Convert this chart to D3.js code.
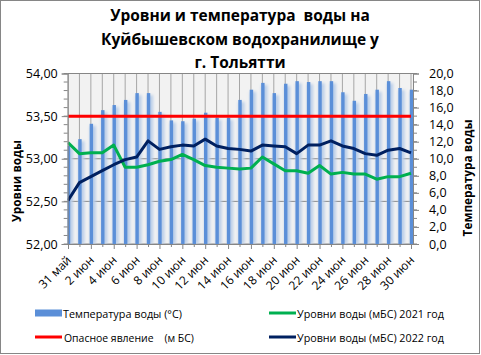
<!DOCTYPE html>
<html><head><meta charset="utf-8">
<script src="https://cdn.jsdelivr.net/npm/d3@7"></script>
<style>
html,body{margin:0;padding:0;background:#fff;}
svg{display:block;}
text{font-family:"Open Sans","Noto Sans",sans-serif;}
</style></head>
<body>
<script>
const days = ["31 май","1 июн","2 июн","3 июн","4 июн","5 июн","6 июн","7 июн","8 июн","9 июн","10 июн","11 июн","12 июн","13 июн","14 июн","15 июн","16 июн","17 июн","18 июн","19 июн","20 июн","21 июн","22 июн","23 июн","24 июн","25 июн","26 июн","27 июн","28 июн","29 июн","30 июн"];
const temperature = [11.5,12.3,14.1,15.7,16.3,16.9,17.7,17.7,15.5,14.5,14.4,14.7,15.4,14.8,14.8,16.9,18.1,18.9,17.7,18.8,19.1,19.0,19.1,19.1,17.8,16.8,17.6,18.1,19.1,18.3,18.1];
const level2021 = [53.19,53.06,53.07,53.07,53.16,52.90,52.90,52.93,52.97,52.99,53.05,52.99,52.92,52.90,52.89,52.88,52.89,53.02,52.94,52.86,52.86,52.83,52.92,52.82,52.84,52.82,52.82,52.76,52.79,52.79,52.83];
const level2022 = [52.51,52.72,52.79,52.86,52.93,52.99,53.02,53.21,53.11,53.14,53.16,53.15,53.23,53.15,53.12,53.11,53.09,53.16,53.15,53.14,53.06,53.16,53.16,53.21,53.15,53.12,53.06,53.04,53.10,53.12,53.07];
const danger = days.map(() => 53.5);
const leftTicks = [52.0,52.5,53.0,53.5,54.0];
const rightTicks = [0,2,4,6,8,10,12,14,16,18,20];
const titleLines = ["Уровни и температура  воды на","Куйбышевском водохранилище у","г. Тольятти"];
const legendLabels = ["Температура воды (°C)","Опасное явление    (м БС)","Уровни воды (мБС) 2021 год","Уровни воды (мБС) 2022 год"];

const W = 481, H = 355;
const L = 67.7, R = 413, T = 73.5, B = 244;
const svg = d3.select("body").append("svg").attr("width", W).attr("height", H);

function fit(sel, w) {
  const fs = parseFloat(sel.style("font-size"));
  const cur = sel.node().getComputedTextLength();
  sel.style("font-size", (fs * w / cur).toFixed(2) + "px");
}

svg.append("rect").attr("x",0.5).attr("y",0.5).attr("width",W-2).attr("height",H-2)
  .attr("fill","#fff").attr("stroke","#868686");

const defs = svg.append("defs");
defs.append("clipPath").attr("id","plotclip").append("rect")
  .attr("x",L).attr("y",T-1).attr("width",R-L).attr("height",B-T+1);
const f = defs.append("filter").attr("id","glow").attr("x","-100%").attr("width","300%");
f.append("feGaussianBlur").attr("stdDeviation",1.6);

const x = d3.scalePoint().domain(days).range([68, 411]);
const yL = d3.scaleLinear().domain([52,54]).range([B,T]);
const yR = d3.scaleLinear().domain([0,20]).range([B,T]);

// plot bg
svg.append("rect").attr("x",L).attr("y",T).attr("width",R-L).attr("height",B-T).attr("fill","#f2f2f2");

// vertical gridlines
svg.append("g").selectAll("line").data(days).join("line")
  .attr("x1",d=>x(d)).attr("x2",d=>x(d)).attr("y1",T).attr("y2",B)
  .attr("stroke","#a6a6a6").attr("stroke-width",1);
// horizontal gridlines
svg.append("g").selectAll("line").data(leftTicks).join("line")
  .attr("x1",L).attr("x2",R).attr("y1",d=>yL(d)).attr("y2",d=>yL(d))
  .attr("stroke","#868686").attr("stroke-width",1);

const plot = svg.append("g").attr("clip-path","url(#plotclip)");
// bar glow
plot.append("g").selectAll("rect").data(temperature).join("rect")
  .attr("x",(d,i)=>x(days[i])-1).attr("width",6)
  .attr("y",d=>yR(d)+2).attr("height",d=>B-yR(d)-2)
  .attr("fill","#b9cde8").attr("filter","url(#glow)");
// bars
plot.append("g").selectAll("rect").data(temperature).join("rect")
  .attr("x",(d,i)=>x(days[i])-1.2).attr("width",3.4)
  .attr("y",d=>yR(d)).attr("height",d=>B-yR(d))
  .attr("fill","#5b8fd8");

const lineL = d3.line().x((d,i)=>x(days[i])).y(d=>yL(d));
plot.append("path").datum(danger).attr("d",lineL).attr("fill","none").attr("stroke","#ff0000").attr("stroke-width",3);
plot.append("path").datum(level2021).attr("d",lineL).attr("fill","none").attr("stroke","#00b050").attr("stroke-width",3).attr("stroke-linejoin","round");
plot.append("path").datum(level2022).attr("d",lineL).attr("fill","none").attr("stroke","#002060").attr("stroke-width",3).attr("stroke-linejoin","round");

// left axis
const gl = svg.append("g").attr("transform",`translate(${L},0)`)
  .call(d3.axisLeft(yL).tickValues(leftTicks).tickSize(6).tickFormat(d=>d3.format(".2f")(d).replace(".",",")));
gl.select(".domain").attr("stroke","#868686");
gl.selectAll(".tick line").attr("stroke","#868686");
gl.selectAll(".tick text").attr("x",-10).style("font-size","12.5px").attr("fill","#000").style("font-family","'Open Sans'");
const minorL = d3.range(52,54.001,0.1);
svg.append("g").selectAll("line").data(minorL).join("line")
  .attr("x1",L-4).attr("x2",L).attr("y1",d=>yL(d)).attr("y2",d=>yL(d)).attr("stroke","#868686");

// right axis
const gr = svg.append("g").attr("transform",`translate(${R},0)`)
  .call(d3.axisRight(yR).tickValues(rightTicks).tickSize(6).tickFormat(d=>d3.format(".1f")(d).replace(".",",")));
gr.select(".domain").attr("stroke","#868686");
gr.selectAll(".tick line").attr("stroke","#868686");
gr.selectAll(".tick text").attr("x",16).style("font-size","12.5px").attr("fill","#000").style("font-family","'Open Sans'");
const minorR = d3.range(0,20.001,1);
svg.append("g").selectAll("line").data(minorR).join("line")
  .attr("x1",R).attr("x2",R+4).attr("y1",d=>yR(d)).attr("y2",d=>yR(d)).attr("stroke","#868686");

// bottom axis
const gb = svg.append("g").attr("transform",`translate(0,${B})`)
  .call(d3.axisBottom(x).tickSize(4).tickFormat(""));
gb.select(".domain").attr("stroke","#868686").attr("d",`M${L},0.5H${R}`);
gb.selectAll(".tick line").attr("stroke","#868686").attr("y2",(d,i)=>i%2===0?5:3);
svg.append("g").selectAll("text").data(days.filter((d,i)=>i%2===0)).join("text")
  .attr("transform",d=>`translate(${x(d)+4},${B+17}) rotate(-45)`)
  .attr("text-anchor","end").style("font-size","12px").attr("fill","#000").text(d=>d);

// axis titles
svg.append("text").attr("transform","translate(21,181) rotate(-90)").attr("text-anchor","middle")
  .style("font-size","13px").style("font-weight","bold").text("Уровни воды")
  .each(function(){fit(d3.select(this),82);});
svg.append("text").attr("transform","translate(472,178) rotate(-90)").attr("text-anchor","middle")
  .style("font-size","13px").style("font-weight","bold").text("Температура воды")
  .each(function(){fit(d3.select(this),117);});

// title
const tt = svg.append("g");
const tys = [21,45,67.5];
const tsel = tt.selectAll("text").data(titleLines).join("text")
  .attr("x",240).attr("y",(d,i)=>tys[i]).attr("text-anchor","middle")
  .style("font-size","16px").style("font-weight","bold").style("white-space","pre").attr("xml:space","preserve").text(d=>d);
const w2 = tsel.nodes()[1].getComputedTextLength();
tsel.style("font-size",(16*278/w2).toFixed(2)+"px");

// legend
const leg = [
  {type:"rect", color:"#5b8fd8", x:35, y:313, tx:63, w:119},
  {type:"line", color:"#ff0000", x:35, y:337, tx:64, w:130},
  {type:"line", color:"#00b050", x:269, y:313, tx:297, w:147},
  {type:"line", color:"#002060", x:269, y:337, tx:297, w:147}
];
leg.forEach((o,i)=>{
  if (o.type==="rect") svg.append("rect").attr("x",o.x).attr("y",o.y-3.5).attr("width",27).attr("height",7).attr("fill",o.color);
  else svg.append("line").attr("x1",o.x).attr("x2",o.x+27).attr("y1",o.y).attr("y2",o.y).attr("stroke",o.color).attr("stroke-width",3);
  const t = svg.append("text").attr("x",o.tx).attr("y",o.y+4.5).style("font-size","12px").attr("xml:space","preserve").style("white-space","pre").text(legendLabels[i]);
  fit(t, o.w);
});
</script>
</body></html>
